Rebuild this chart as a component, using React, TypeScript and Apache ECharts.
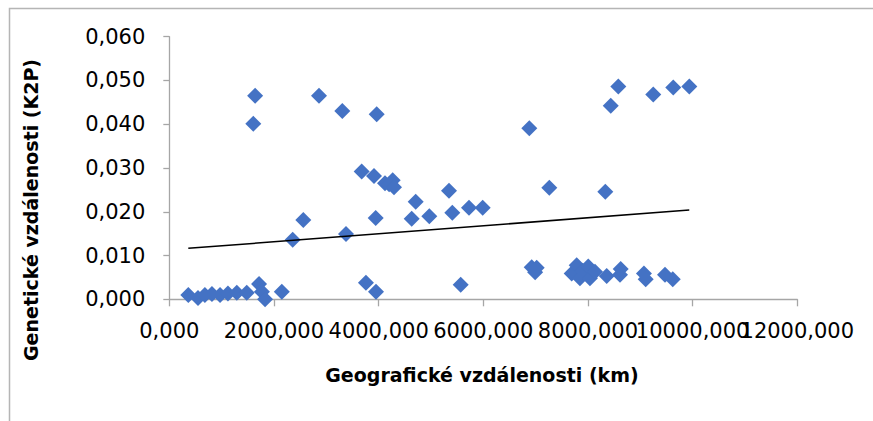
import React, { useEffect, useRef } from "react";
import * as echarts from "echarts";

const xValues: number[] = [
  363, 548, 680, 815, 970, 1120, 1290, 1480, 1715, 1770, 1830, 2150,
  1605, 1640, 2358, 2561, 2860, 3306, 3376, 3676, 3758, 3911, 3944, 3950,
  3963, 4122, 4200, 4269, 4294, 4632, 4708, 4968, 5345, 5408, 5568, 5727,
  5988, 6879, 6925, 6990, 7020, 7261, 7689, 7784, 7847, 7900, 8006, 8038,
  8134, 8331, 8358, 8435, 8580, 8612, 8625, 9070, 9103, 9248, 9472, 9630,
  9620, 9936,
];
const yValues: number[] = [
  0.001, 0.0003, 0.001, 0.0012, 0.001, 0.0013, 0.0015, 0.0015, 0.0035, 0.0017, 0.0, 0.0017,
  0.0401, 0.0465, 0.0136, 0.0181, 0.0465, 0.043, 0.0149, 0.0292, 0.0038, 0.0282, 0.0186, 0.0017,
  0.0423, 0.0265, 0.0263, 0.0272, 0.0256, 0.0184, 0.0223, 0.019, 0.0248, 0.0198, 0.0033, 0.0209,
  0.0209, 0.0391, 0.0073, 0.0062, 0.0072, 0.0255, 0.0059, 0.0078, 0.0048, 0.0065, 0.0075, 0.0048,
  0.0063, 0.0246, 0.0053, 0.0442, 0.0486, 0.0056, 0.0069, 0.0059, 0.0046, 0.0468, 0.0056, 0.0484,
  0.0046, 0.0486,
];
const trendX: number[] = [363, 9936];
const trendY: number[] = [0.01165, 0.0204];

const xTitle = "Geografické vzdálenosti (km)";
const yTitle = "Genetické vzdálenosti (K2P)";

const fmt = (v: number) => v.toFixed(3).replace(".", ",");

export default function App() {
  const ref = useRef<HTMLDivElement>(null);
  useEffect(() => {
    if (!ref.current) return;
    const chart = echarts.init(ref.current, undefined, { renderer: "svg" });
    const axisLineStyle = { color: "#a6a6a6", width: 1.3 };
    const labelStyle = { color: "#000", fontFamily: "DejaVu Sans", fontSize: 21 };
    const xBase = {
      type: "value",
      min: 0,
      max: 12000,
      interval: 2000,
      position: "bottom",
      splitLine: { show: false },
    };
    chart.setOption({
      animation: false,
      backgroundColor: "#fff",
      grid: { left: 169.3, right: 75.7, top: 36.7, bottom: 121.7, containLabel: false },
      xAxis: [
        {
          ...xBase,
          axisLine: { show: true, lineStyle: axisLineStyle },
          axisTick: { show: true, length: 7, lineStyle: axisLineStyle },
          axisLabel: {
            ...labelStyle,
            margin: 21,
            hideOverlap: false,
            showMinLabel: true,
            showMaxLabel: true,
            formatter: (v: number) => (Math.round(v / 2000) % 2 === 0 ? fmt(v) : ""),
          },
        },
        {
          ...xBase,
          axisLine: { show: false },
          axisTick: { show: false },
          axisLabel: {
            ...labelStyle,
            margin: 21,
            hideOverlap: false,
            showMinLabel: true,
            showMaxLabel: true,
            formatter: (v: number) => (Math.round(v / 2000) % 2 === 1 ? fmt(v) : ""),
          },
        },
      ],
      yAxis: {
        type: "value",
        min: 0,
        max: 0.06,
        interval: 0.01,
        axisLine: { show: true, lineStyle: axisLineStyle },
        axisTick: { show: true, length: 6, lineStyle: axisLineStyle },
        splitLine: { show: false },
        axisLabel: {
          ...labelStyle,
          margin: 24,
          formatter: fmt,
          showMinLabel: true,
          showMaxLabel: true,
        },
      },
      graphic: [
        {
          type: "rect",
          shape: { x: 9.5, y: 8.5, width: 950, height: 600 },
          style: { fill: "none", stroke: "#b5b5b5", lineWidth: 1.5 },
          silent: true,
        },
        {
          type: "text",
          x: 482,
          y: 375,
          style: {
            text: xTitle,
            font: "bold 19px 'DejaVu Sans'",
            fill: "#000",
            align: "center",
            verticalAlign: "middle",
            textAlign: "center",
            textVerticalAlign: "middle",
          },
        },
        {
          type: "text",
          x: 31,
          y: 210,
          rotation: Math.PI / 2,
          style: {
            text: yTitle,
            font: "bold 19px 'DejaVu Sans'",
            fill: "#000",
            align: "center",
            verticalAlign: "middle",
            textAlign: "center",
            textVerticalAlign: "middle",
          },
        },
      ],
      series: [
        {
          type: "scatter",
          xAxisIndex: 0,
          symbol: "diamond",
          symbolSize: 16,
          itemStyle: { color: "#4472C4", opacity: 1 },
          data: xValues.map((x, i) => [x, yValues[i]]),
          z: 3,
        },
        {
          type: "line",
          xAxisIndex: 0,
          data: trendX.map((x, i) => [x, trendY[i]]),
          symbol: "none",
          showSymbol: false,
          lineStyle: { color: "#000", width: 1.5 },
          z: 4,
        },
      ],
    });
    return () => chart.dispose();
  }, []);
  return (
    <div
      ref={ref}
      style={{ position: "fixed", left: 0, top: 0, width: 873, height: 421 }}
    />
  );
}
